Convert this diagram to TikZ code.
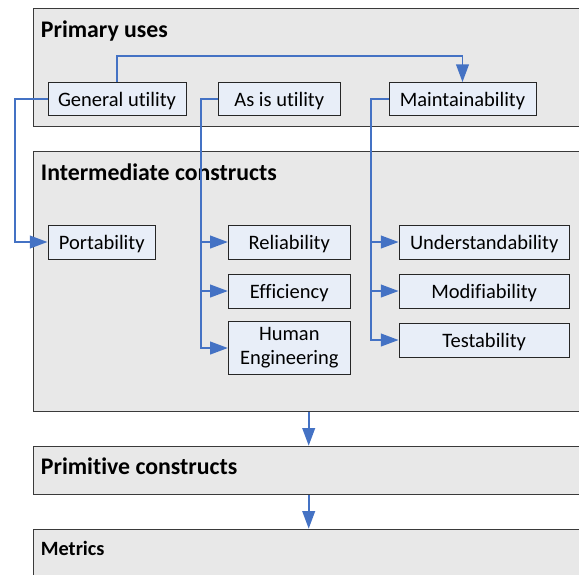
\documentclass[tikz,border=0pt]{standalone}
\usepackage{fontspec}
\setmainfont{Carlito}[Ligatures={NoCommon,NoRare,NoContextual}]
\usetikzlibrary{arrows.meta}
\definecolor{lineblue}{HTML}{4472C4}
\definecolor{boxblue}{HTML}{E8EEF8}
\definecolor{panelgray}{HTML}{E8E8E8}
\definecolor{paneledge}{HTML}{3A3A3A}
\begin{document}
\begin{tikzpicture}[x=1pt,y=-1pt,
 panel/.style={draw=paneledge, fill=panelgray, line width=0.9pt, anchor=north west, inner sep=0pt, minimum width=600pt},
 item/.style={draw=black!85, fill=boxblue, line width=0.9pt, inner sep=0pt, font=\fontsize{20.5}{24}\selectfont, align=center},
 oneline/.style={item, text height=15.4pt, text depth=0pt},
 title/.style={anchor=base west, inner sep=0pt, font=\fontsize{23.8}{28}\selectfont\bfseries},
 link/.style={draw=lineblue, line width=1.8pt},
 arr/.style={link, -{Triangle[length=17.7pt,width=12.7pt]}}]
\useasboundingbox (0,0) rectangle (579,574);
\clip (0,0) rectangle (579,574);
% panels
\node[panel, minimum height=118pt] (pu) at (33,8) {};
\node[panel, minimum height=260pt] (ic) at (33,151) {};
\node[panel, minimum height=48.6pt] (pc) at (33,445.7) {};
\node[panel, minimum height=80pt] (me) at (33,528.7) {};
% titles
\node[title] (t1) at (40.7,37.3) {Primary uses};
\node[title] (t2) at (40.7,180) {Intermediate constructs};
\node[title] (t3) at (40.7,474) {Primitive constructs};
\node[title, font=\fontsize{20.3}{24}\selectfont\bfseries] (t4) at (40.7,555) {Metrics};
% items
\node[oneline, minimum width=138pt, minimum height=33pt] (gu) at (117,99) {General utility};
\node[oneline, minimum width=122.7pt, minimum height=33pt] (ai) at (279.3,99) {As is utility};
\node[oneline, minimum width=147pt, minimum height=33pt] (mt) at (462.5,99) {Maintainability};
\node[oneline, minimum width=107.7pt, minimum height=34pt] (po) at (101.8,242) {Portability};
\node[oneline, minimum width=122pt, minimum height=34pt] (re) at (289.3,242) {Reliability};
\node[oneline, minimum width=122pt, minimum height=34pt] (ef) at (289.3,291) {Efficiency};
\node[item, minimum width=122pt, minimum height=53.4pt] (he) at (289.3,348) {Human\\Engineering};
\node[oneline, minimum width=170.3pt, minimum height=34pt] (un) at (484.2,242) {Understandability};
\node[oneline, minimum width=170.3pt, minimum height=34pt] (mo) at (484.2,291) {Modifiability};
\node[oneline, minimum width=170.3pt, minimum height=34pt] (te) at (484.2,340) {Testability};
% routing coordinates
\coordinate (toprow) at (0,56);
\coordinate (leftbus) at (15,0);
\coordinate (midbus) at (201,0);
\coordinate (rightbus) at (370.7,0);
\coordinate (downx) at (308.7,0);
% connectors
\draw[arr] (gu.north) -- (gu.north |- toprow) -| (mt.north);
\draw[arr] (gu.west) -- (gu.west -| leftbus) |- (po.west);
\draw[arr] (ai.west) -- (ai.west -| midbus) |- (he.west);
\draw[arr] (midbus |- re.west) -- (re.west);
\draw[arr] (midbus |- ef.west) -- (ef.west);
\draw[arr] (mt.west) -- (mt.west -| rightbus) |- (te.west);
\draw[arr] (rightbus |- un.west) -- (un.west);
\draw[arr] (rightbus |- mo.west) -- (mo.west);
\draw[arr] (downx |- ic.south) -- (downx |- pc.north);
\draw[arr] (downx |- pc.south) -- (downx |- me.north);
\end{tikzpicture}
\end{document}
